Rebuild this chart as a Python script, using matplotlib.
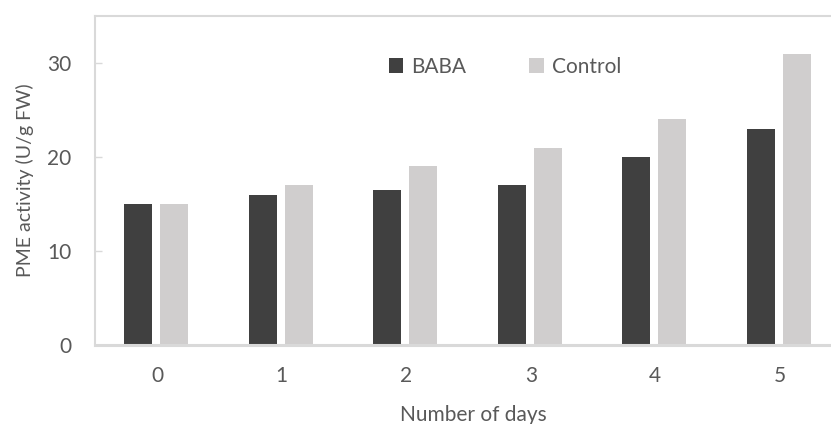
import numpy as np
from matplotlib import pyplot as plt

plt.rcParams["font.family"] = ["Lato", "DejaVu Sans"]

days = ["0", "1", "2", "3", "4", "5"]
baba = [15, 16, 16.5, 17, 20, 23]
control = [15, 17, 19, 21, 24, 31]

text_col = "#595959"
frame_col = "#d9d9d9"

fig = plt.figure(figsize=(8.31, 4.24), dpi=100)
# plot area runs off the right edge, as in the reference
ax = fig.add_axes([95/831, 1-345/424, (842-95)/831, (345-16)/424])

x = np.arange(len(days))
w = 0.225
ax.bar(x - 0.152, baba, w, color="#404040", label="BABA", zorder=2)
ax.bar(x + 0.138, control, w, color="#d0cece", label="Control", zorder=2)

ax.set_xlim(-0.5, 5.5)
ax.set_ylim(0, 35)
ax.set_yticks([0, 10, 20, 30])
ax.set_xticks(x)
ax.set_xticklabels(days)

for s in ["left", "top", "right"]:
    ax.spines[s].set_color(frame_col)
    ax.spines[s].set_linewidth(1.5)
ax.spines["bottom"].set_color(frame_col)
ax.spines["bottom"].set_linewidth(2.2)

ax.tick_params(axis="y", direction="in", length=5, width=1, color=frame_col,
               labelsize=15, labelcolor=text_col, pad=17)
ax.tick_params(axis="x", length=0, labelsize=15, labelcolor=text_col, pad=15)

ax.set_ylabel("PME activity (U/g FW)", fontsize=14, color=text_col)
ax.yaxis.set_label_coords((34-95)/747, 0.5)
ax.set_xlabel("Number of days", fontsize=15, color=text_col)
ax.xaxis.set_label_coords((473-95)/747, -(405-345)/329)

leg = ax.legend(loc="center", bbox_to_anchor=((505-95)/747, (345-67)/329), ncol=2,
                frameon=False, fontsize=15, handlelength=0.7, handleheight=0.7,
                handletextpad=0.4, columnspacing=3.0)
for t in leg.get_texts():
    t.set_color(text_col)

fig.savefig("out.png", dpi=100)
